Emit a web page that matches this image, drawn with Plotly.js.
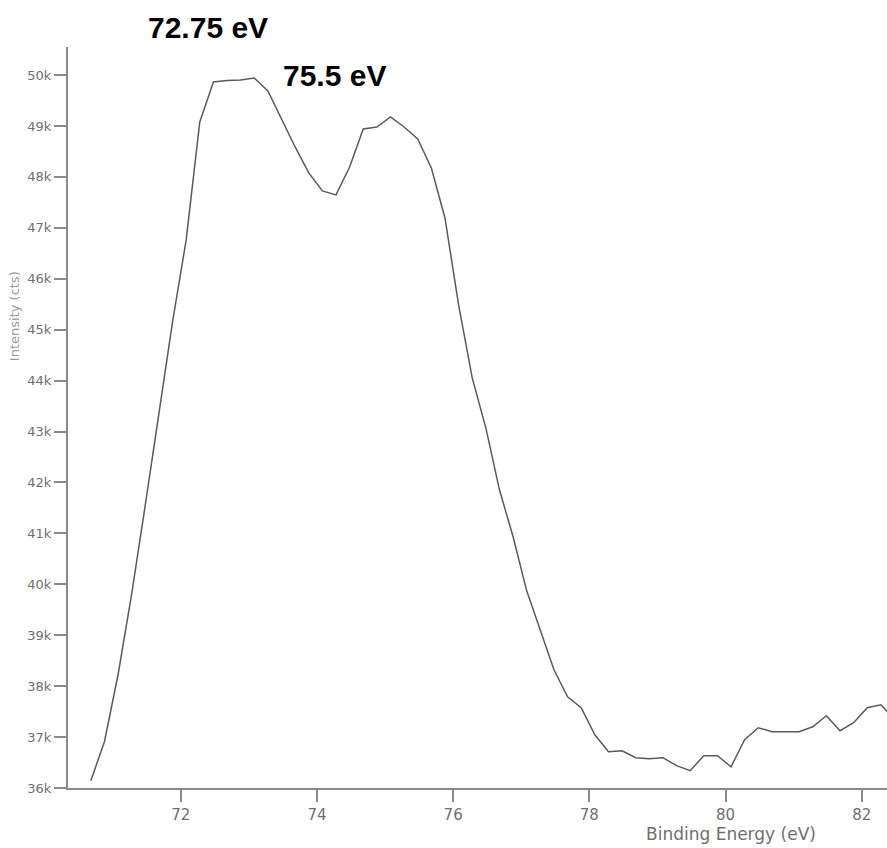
<!DOCTYPE html>
<html>
<head>
<meta charset="utf-8">
<script src="https://cdn.plot.ly/plotly-3.0.1.min.js"></script>
<style>
  html, body { margin: 0; padding: 0; background: #ffffff; }
  #chart { width: 887px; height: 848px; }
</style>
</head>
<body>
<div id="chart"></div>
<script>
// Binding energy (eV), sampled every 0.2 eV
const bindingEnergy = [
  70.68, 70.88, 71.08, 71.28, 71.48, 71.68, 71.88, 72.08, 72.28, 72.48,
  72.68, 72.88, 73.08, 73.28, 73.48, 73.68, 73.88, 74.08, 74.28, 74.48,
  74.68, 74.88, 75.08, 75.28, 75.48, 75.68, 75.88, 76.08, 76.28, 76.48,
  76.68, 76.88, 77.08, 77.28, 77.48, 77.68, 77.88, 78.08, 78.28, 78.48,
  78.68, 78.88, 79.08, 79.28, 79.48, 79.68, 79.88, 80.08, 80.28, 80.48,
  80.68, 80.88, 81.08, 81.28, 81.48, 81.68, 81.88, 82.08, 82.28, 82.48
];
// Intensity (counts)
const intensity = [
  36143, 36909, 38224, 39814, 41560, 43327, 45152, 46762, 49078, 49863,
  49892, 49902, 49941, 49686, 49136, 48587, 48077, 47723, 47645, 48194,
  48940, 48979, 49176, 48979, 48744, 48175, 47193, 45486, 44053, 43072,
  41855, 40932, 39872, 39107, 38322, 37792, 37576, 37046, 36712, 36732,
  36595, 36575, 36595, 36438, 36340, 36634, 36634, 36418, 36948, 37183,
  37105, 37105, 37105, 37203, 37419, 37125, 37282, 37576, 37635, 37341
];
// Peak labels
const peakLabels = ["72.75 eV", "75.5 eV"];
const xTitle = "Binding Energy (eV)";
const yTitle = "Intensity (cts)";

const axisGray = "#8a8a8a";
const labelGray = "#6f6f6f";

const trace = {
  x: bindingEnergy,
  y: intensity,
  type: "scatter",
  mode: "lines",
  line: { color: "#5a5a5a", width: 1.5 },
  hoverinfo: "x+y"
};

const layout = {
  width: 887,
  height: 848,
  margin: { l: 68, r: 0, t: 47, b: 60 },
  paper_bgcolor: "#ffffff",
  plot_bgcolor: "#ffffff",
  showlegend: false,
  font: { family: "DejaVu Sans, Arial, sans-serif", color: labelGray },
  xaxis: {
    range: [70.345, 82.37],
    tickmode: "linear",
    tick0: 72,
    dtick: 2,
    ticks: "outside",
    ticklen: 12,
    tickwidth: 2,
    tickcolor: axisGray,
    showline: true,
    linecolor: axisGray,
    linewidth: 2,
    showgrid: false,
    zeroline: false,
    tickfont: { size: 15, color: labelGray, family: "DejaVu Sans, sans-serif" }
  },
  yaxis: {
    range: [36000, 50550],
    tickmode: "linear",
    tick0: 36000,
    dtick: 1000,
    tickformat: "~s",
    ticks: "outside",
    ticklen: 12,
    tickwidth: 2,
    tickcolor: axisGray,
    showline: true,
    linecolor: axisGray,
    linewidth: 2,
    showgrid: false,
    zeroline: false,
    tickfont: { size: 13, color: labelGray, family: "DejaVu Sans, sans-serif" }
  },
  annotations: [
    {
      text: peakLabels[0], xref: "paper", yref: "paper",
      x: 0.171, y: 1.026, xanchor: "center", yanchor: "middle",
      showarrow: false,
      font: { family: "Liberation Sans, Arial, sans-serif", size: 30, color: "#000000", weight: "bold" }
    },
    {
      text: peakLabels[1], xref: "paper", yref: "paper",
      x: 0.326, y: 0.962, xanchor: "center", yanchor: "middle",
      showarrow: false,
      font: { family: "Liberation Sans, Arial, sans-serif", size: 30, color: "#000000", weight: "bold" }
    },
    {
      text: xTitle, xref: "paper", yref: "paper",
      x: 0.8095, y: -0.062, xanchor: "center", yanchor: "middle",
      showarrow: false,
      font: { family: "DejaVu Sans, sans-serif", size: 17, color: labelGray }
    },
    {
      text: yTitle, xref: "paper", yref: "paper",
      x: -0.0645, y: 0.637, xanchor: "center", yanchor: "middle",
      textangle: -90, showarrow: false,
      font: { family: "DejaVu Sans, sans-serif", size: 13, color: "#9a9a9a" }
    }
  ]
};

Plotly.newPlot("chart", [trace], layout, { displayModeBar: false, staticPlot: true });
</script>
</body>
</html>
